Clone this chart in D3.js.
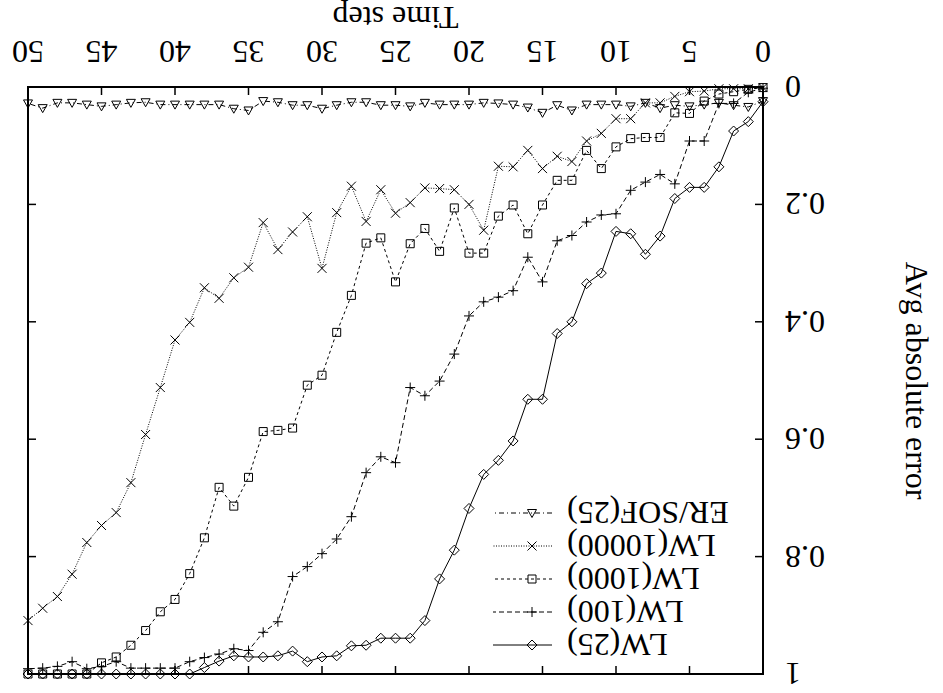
<!DOCTYPE html>
<html lang="en">
<head>
    <meta charset="UTF-8">
    <title>Avg absolute error over time</title>
    <style>
        body, html {
            margin: 0;
            padding: 0;
            background: #fff;
            overflow: hidden;
        }
        text {
            font-family: "Liberation Serif", "DejaVu Serif", serif;
            fill: #000;
        }
        .series {
            fill: none;
            stroke: #000;
            stroke-width: 1;
        }
        .pt {
            fill: none;
            stroke: #000;
            stroke-width: 1;
        }
    </style>
</head>
<body>
    <script src="https://d3js.org/d3.v7.min.js"></script>
    <script>
        const width = 943;
        const height = 693;

        // time steps 0..50
        const steps = d3.range(0, 51);
        const xTicks = [0, 5, 10, 15, 20, 25, 30, 35, 40, 45, 50];
        const yTicks = [0, 0.2, 0.4, 0.6, 0.8, 1];

        const lw25 = [0.025, 0.059, 0.075, 0.136, 0.171, 0.171, 0.19, 0.254, 0.285, 0.25,
            0.246, 0.317, 0.335, 0.40, 0.42, 0.532, 0.532, 0.603, 0.636, 0.66,
            0.718, 0.789, 0.838, 0.909, 0.939, 0.939, 0.939, 0.951, 0.952, 0.969,
            0.971, 0.979, 0.961, 0.969, 0.971, 0.971, 0.969, 0.978, 0.989, 1,
            1, 1, 1, 1, 1, 1, 1, 1, 1, 1, 1];
        const lw100 = [0.002, 0.009, 0.028, 0.028, 0.092, 0.092, 0.165, 0.149, 0.162, 0.176,
            0.216, 0.218, 0.23, 0.253, 0.262, 0.332, 0.29, 0.347, 0.358, 0.366,
            0.39, 0.455, 0.501, 0.526, 0.512, 0.640, 0.630, 0.657, 0.732, 0.770,
            0.795, 0.817, 0.834, 0.911, 0.929, 0.960, 0.957, 0.966, 0.972, 0.979,
            0.990, 0.990, 0.990, 0.990, 0.979, 0.987, 0.991, 0.979, 0.987, 0.990, 0.991];
        const lw1000 = [0.001, 0.004, 0.008, 0.012, 0.024, 0.045, 0.044, 0.086, 0.086, 0.088,
            0.102, 0.139, 0.108, 0.159, 0.159, 0.201, 0.25, 0.201, 0.22, 0.283,
            0.283, 0.206, 0.28, 0.241, 0.267, 0.332, 0.257, 0.266, 0.355, 0.418,
            0.491, 0.508, 0.581, 0.585, 0.587, 0.665, 0.714, 0.682, 0.768, 0.829,
            0.873, 0.894, 0.926, 0.951, 0.971, 0.981, 1, 1, 1, 1, 1];
        const lw10000 = [0.001, 0.003, 0.003, 0.003, 0.007, 0.008, 0.016, 0.027, 0.027, 0.054,
            0.054, 0.079, 0.092, 0.127, 0.118, 0.139, 0.108, 0.136, 0.135, 0.244,
            0.2, 0.175, 0.173, 0.172, 0.197, 0.215, 0.175, 0.229, 0.169, 0.214,
            0.309, 0.221, 0.247, 0.277, 0.231, 0.307, 0.325, 0.36, 0.342, 0.401,
            0.431, 0.512, 0.592, 0.674, 0.725, 0.747, 0.776, 0.83, 0.868, 0.888, 0.909];
        const ersof25 = [0.024, 0.034, 0.031, 0.027, 0.03, 0.033, 0.031, 0.036, 0.027, 0.033,
            0.03, 0.03, 0.03, 0.04, 0.031, 0.044, 0.035, 0.03, 0.028, 0.027,
            0.03, 0.03, 0.03, 0.027, 0.033, 0.031, 0.031, 0.026, 0.026, 0.031,
            0.037, 0.031, 0.031, 0.026, 0.024, 0.04, 0.037, 0.03, 0.03, 0.03,
            0.03, 0.03, 0.026, 0.027, 0.03, 0.033, 0.03, 0.027, 0.027, 0.036, 0.028];

        const series = [
            { name: "LW(25)", values: lw25, dash: null, mark: "diamond" },
            { name: "LW(100)", values: lw100, dash: "5,3", mark: "plus" },
            { name: "LW(1000)", values: lw1000, dash: "3,3", mark: "square" },
            { name: "LW(10000)", values: lw10000, dash: "1,1.5", mark: "cross" },
            { name: "ER/SOF(25)", values: ersof25, dash: "5,3,1,3", mark: "triangle" }
        ];

        // plot box (drawn upright, then the whole page is turned upside down)
        const plotLeft = 180, plotRight = 915, plotTop = 19, plotBottom = 606;

        const x = d3.scaleLinear().domain([0, 50]).range([plotLeft, plotRight]);
        const y = d3.scaleLinear().domain([0, 1]).range([plotBottom, plotTop]);

        const svg = d3.select("body").append("svg")
            .attr("width", width)
            .attr("height", height);

        const g = svg.append("g")
            .attr("transform", `rotate(180 ${width / 2} ${height / 2})`);

        // marker shapes
        function markPath(kind) {
            if (kind === "diamond") return "M0,-5L5,0L0,5L-5,0Z";
            if (kind === "plus") return "M-5,0H5M0,-5V5";
            if (kind === "square") return "M-4,-4H4V4H-4Z";
            if (kind === "cross") return "M-4.5,-4.5L4.5,4.5M-4.5,4.5L4.5,-4.5";
            return "M0,-4.5L4.5,3.5H-4.5Z";
        }

        const line = d3.line()
            .x((d, i) => x(steps[i]))
            .y(d => y(d));

        series.forEach(s => {
            g.append("path")
                .attr("class", "series")
                .attr("d", line(s.values))
                .attr("stroke-dasharray", s.dash);

            g.selectAll(null)
                .data(s.values)
                .enter().append("path")
                .attr("class", "pt")
                .attr("transform", (d, i) => `translate(${x(steps[i])},${y(d)})`)
                .attr("d", markPath(s.mark));
        });

        // ticks on all four sides, pointing inward
        const tickLen = 8;
        xTicks.forEach(t => {
            g.append("line").attr("x1", x(t)).attr("x2", x(t))
                .attr("y1", plotBottom).attr("y2", plotBottom - tickLen)
                .attr("stroke", "#000").attr("stroke-width", 1.5);
            g.append("line").attr("x1", x(t)).attr("x2", x(t))
                .attr("y1", plotTop).attr("y2", plotTop + tickLen)
                .attr("stroke", "#000").attr("stroke-width", 1.5);
            g.append("text")
                .attr("x", x(t))
                .attr("y", plotBottom + 46)
                .attr("text-anchor", "middle")
                .style("font-size", "32px")
                .text(t);
        });
        yTicks.forEach(v => {
            g.append("line").attr("x1", plotLeft).attr("x2", plotLeft + tickLen)
                .attr("y1", y(v)).attr("y2", y(v))
                .attr("stroke", "#000").attr("stroke-width", 1.5);
            g.append("line").attr("x1", plotRight).attr("x2", plotRight - tickLen)
                .attr("y1", y(v)).attr("y2", y(v))
                .attr("stroke", "#000").attr("stroke-width", 1.5);
            g.append("text")
                .attr("x", plotLeft - 22)
                .attr("y", y(v) + 11)
                .attr("text-anchor", "end")
                .style("font-size", "32px")
                .text(v);
        });

        // frame
        g.append("rect")
            .attr("x", plotLeft).attr("y", plotTop)
            .attr("width", plotRight - plotLeft).attr("height", plotBottom - plotTop)
            .attr("fill", "none")
            .attr("stroke", "#000")
            .attr("stroke-width", 2);

        g.append("text")
            .attr("x", (plotLeft + plotRight) / 2)
            .attr("y", height - 7)
            .attr("text-anchor", "middle")
            .style("font-size", "32px")
            .text("Time step");

        g.append("text")
            .attr("transform", `translate(37,${(plotTop + plotBottom) / 2}) rotate(-90)`)
            .attr("text-anchor", "middle")
            .style("font-size", "32px")
            .text("Avg absolute error");

        // legend
        const key = g.append("g");
        series.forEach((s, i) => {
            const ky = 48 + i * 33;
            key.append("text")
                .attr("x", 376)
                .attr("y", ky + 11)
                .attr("text-anchor", "end")
                .style("font-size", "32px")
                .text(s.name);
            key.append("line")
                .attr("x1", 391).attr("x2", 450)
                .attr("y1", ky).attr("y2", ky)
                .attr("stroke", "#000")
                .attr("stroke-dasharray", s.dash);
            key.append("path")
                .attr("class", "pt")
                .attr("transform", `translate(411,${ky})`)
                .attr("d", markPath(s.mark));
        });
    </script>
</body>
</html>
